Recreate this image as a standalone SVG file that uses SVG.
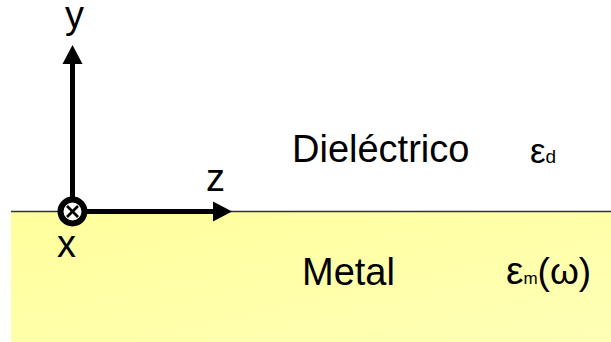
<svg xmlns="http://www.w3.org/2000/svg" width="611" height="342" viewBox="0 0 611 342">
  <defs>
    <linearGradient id="metalFill" x1="0" y1="0" x2="1" y2="1">
      <stop offset="0" stop-color="#FFFF9C"/>
      <stop offset="1" stop-color="#FFFFB6"/>
    </linearGradient>
    <marker id="ah" markerUnits="userSpaceOnUse" markerWidth="20" markerHeight="22" viewBox="0 -11 20 22" refX="1" refY="0" orient="auto">
      <path d="M0,-10 L19,0 L0,10 z" fill="#000"/>
    </marker>
    <style>
      .lbl { font-family: "Liberation Sans", Arial, sans-serif; font-size: 38px; fill: #000; }
      .axis { stroke: #000; stroke-width: 5; fill: none; marker-end: url(#ah); }
    </style>
  </defs>

  <rect width="611" height="342" fill="#FFFFFF"/>

  <g id="metal-region">
    <rect x="11" y="212" width="600" height="130" fill="url(#metalFill)"/>
    <line x1="11" y1="211.5" x2="611" y2="211.5" stroke="#333" stroke-width="1.5"/>
  </g>

  <g id="connectors">
    <line class="axis" x1="72.5" y1="199" x2="72.5" y2="63"/>
    <line class="axis" x1="86" y1="211.5" x2="214" y2="211.5"/>
  </g>

  <g id="x-axis-symbol">
    <circle cx="72.5" cy="211.5" r="12" fill="#FFFFFF" stroke="#000" stroke-width="6"/>
    <line x1="67" y1="206" x2="78" y2="217" stroke="#000" stroke-width="2.6"/>
    <line x1="78" y1="206" x2="67" y2="217" stroke="#000" stroke-width="2.6"/>
  </g>

  <g id="label-y"><text class="lbl" x="65" y="28" font-size="37">y</text></g>
  <g id="label-z"><text class="lbl" x="206" y="191" font-size="37">z</text></g>
  <g id="label-x"><text class="lbl" x="57" y="257" font-size="37">x</text></g>

  <g id="label-dielectrico"><text class="lbl" x="292" y="162">Dieléctrico</text></g>
  <g id="label-metal"><text class="lbl" x="302" y="285">Metal</text></g>

  <g id="label-eps-d">
    <text class="lbl" x="530" y="163"><tspan font-size="35">ε</tspan><tspan font-size="19">d</tspan></text>
  </g>
  <g id="label-eps-m">
    <text class="lbl" x="506" y="284"><tspan font-size="39">ε</tspan><tspan font-size="17">m</tspan><tspan font-size="37">(ω)</tspan></text>
  </g>
</svg>
